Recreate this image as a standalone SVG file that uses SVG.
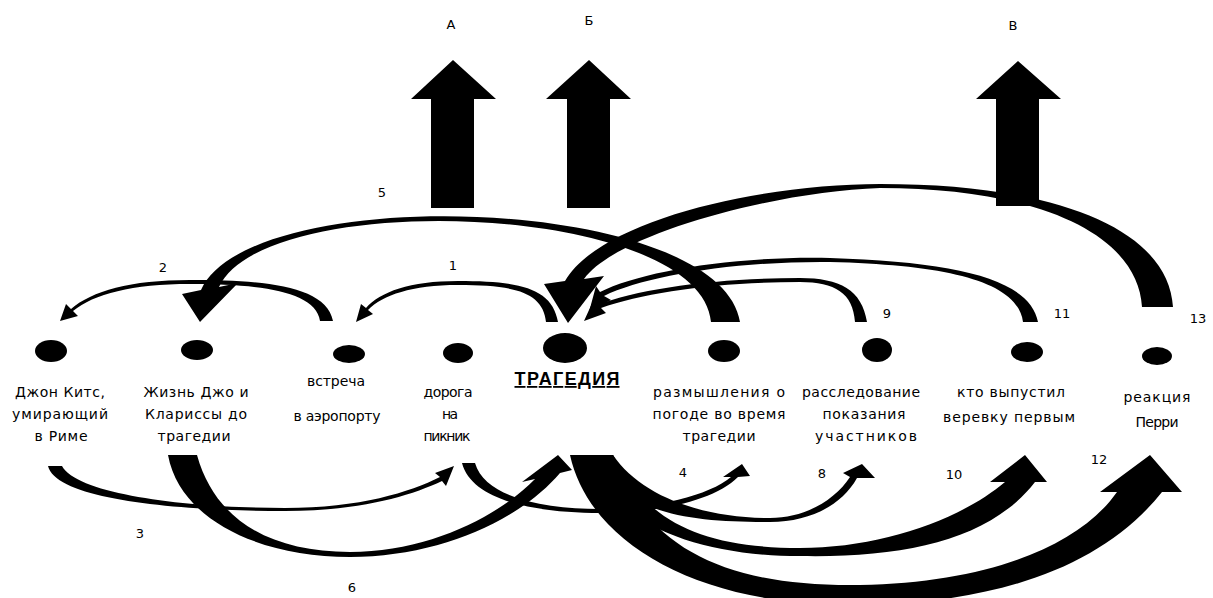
<svg xmlns="http://www.w3.org/2000/svg" width="1213" height="598" viewBox="0 0 1213 598">
<style>
.lbl{font-family:"DejaVu Sans","Liberation Sans",sans-serif;font-size:14px;fill:#000;text-anchor:middle}
.num{font-family:"DejaVu Sans","Liberation Sans",sans-serif;font-size:13px;fill:#000;text-anchor:middle}
.dot{fill:#000}
.arr{fill:#000;stroke:none}
.title{font-family:"Liberation Sans",Arial,sans-serif;font-size:18px;font-weight:bold;fill:#000;text-anchor:middle;text-decoration:underline}
</style>
<rect width="1213" height="598" fill="#fff"/>

<g id="connectors">
  <!-- top arcs -->
  <path id="c1" class="arr" d="M 558 322 C 552 288, 520 281, 458 281 C 410 281, 380 292, 366 308 L 361 304 L 356 322 L 373 314 L 368 310 C 383 295, 412 285, 458 285 C 515 285, 543 292, 546 322 Z"/>
  <path id="c2" class="arr" d="M 333 321 C 326 285, 262 280, 190 280 C 130 280, 92 291, 71 309 L 66 304 L 60 321 L 78 316 L 73 311 C 94 294, 132 284, 190 284 C 255 284, 316 290, 320 321 Z"/>
  <path id="c5" class="arr" d="M 740 322 C 720 195, 250 180, 201 290 L 182 294 L 200 322 L 238 283 L 219 287 C 265 187, 700 202, 711 322 Z"/>
  <path id="c9" class="arr" d="M 867 322 C 862 290, 840 278, 800 278 C 720 278, 640 288, 597 305 L 594 299 L 584 321 L 606 313 L 601 308 C 645 292, 720 282, 800 282 C 835 282, 853 293, 855 322 Z"/>
  <path id="c11" class="arr" d="M 1038 322 C 1030 280, 960 262, 830 258 C 730 256, 640 272, 600 292 L 596 286 L 589 312 L 611 300 L 604 296 C 645 276, 735 261, 830 262 C 950 265, 1018 282, 1023 322 Z"/>
  <path id="c13" class="arr" d="M 1173 307 C 1168 230, 1060 184, 880 184 C 760 184, 600 220, 565 281 L 544 284 L 568 323 L 604 276 L 584 279 C 615 235, 770 192, 880 188 C 1040 188, 1138 235, 1142 307 Z"/>
  <!-- bottom arcs -->
  <path id="c3" class="arr" d="M 48 466 C 56 500, 180 511, 285 511 C 360 511, 410 496, 442 481 L 446 486 L 454 466 L 435 473 L 440 477 C 410 492, 360 508, 285 508 C 190 508, 78 495, 62 466 Z"/>
  <path id="c4" class="arr" d="M 462 463 C 472 502, 540 513, 600 513 C 660 513, 715 500, 738 477 L 750 476 L 742 464 L 723 477 L 731 477 C 710 495, 655 509, 600 509 C 545 509, 485 498, 475 463 Z"/>
  <path id="c6" class="arr" d="M 168 455 C 180 520, 260 557, 350 557 C 440 557, 520 520, 560 473 L 572 470 L 558 455 L 522 482 L 535 479 C 500 515, 430 552, 350 552 C 270 552, 215 520, 197 455 Z"/>
  <path id="c8" class="arr" d="M 600 455 C 620 515, 690 522, 770 522 C 810 522, 842 505, 857 478 L 875 478 L 862 464 L 843 473 L 850 477 C 835 500, 805 518, 770 518 C 700 518, 640 495, 613 455 Z"/>
  <path id="c10" class="arr" d="M 585 455 C 610 520, 690 556, 800 556 C 905 558, 990 540, 1035 482 L 1047 482 L 1025 455 L 990 482 L 1005 482 C 960 520, 880 548, 800 548 C 700 548, 645 520, 613 455 Z"/>
  <path id="c12" class="arr" d="M 570 455 C 590 545, 700 605, 850 605 C 990 605, 1100 570, 1162 492 L 1182 492 L 1150 455 L 1100 492 L 1117 492 C 1080 545, 990 583, 860 585 C 720 587, 645 545, 613 455 Z"/>
  <!-- connector numbers -->
  <text class="num" x="453" y="270">1</text>
  <text class="num" x="163" y="272">2</text>
  <text class="num" x="140" y="538">3</text>
  <text class="num" x="683" y="477">4</text>
  <text class="num" x="382" y="197">5</text>
  <text class="num" x="352" y="592">6</text>
  <text class="num" x="822" y="478">8</text>
  <text class="num" x="887" y="318">9</text>
  <text class="num" x="954" y="479">10</text>
  <text class="num" x="1062" y="318">11</text>
  <text class="num" x="1099" y="464">12</text>
  <text class="num" x="1198" y="323">13</text>
</g>

<g id="up-arrows">
  <g id="arrowA">
    <polygon class="arr" points="453,60 496,99 474,99 474,208 431,208 431,99 411,99"/>
    <text class="num" x="451" y="29">А</text>
  </g>
  <g id="arrowB">
    <polygon class="arr" points="589,60 631,99 610,99 610,208 567,208 567,99 546,99"/>
    <text class="num" x="589" y="25">Б</text>
  </g>
  <g id="arrowV">
    <polygon class="arr" points="1018,61 1061,99 1039,99 1039,206 996,206 996,99 976,99"/>
    <text class="num" x="1013" y="30">В</text>
  </g>
</g>

<g id="node-keats">
  <ellipse class="dot" cx="51" cy="351" rx="16" ry="11"/>
  <text class="lbl" x="60" y="397" textLength="90" lengthAdjust="spacing">Джон Китс,</text>
  <text class="lbl" x="60" y="419" textLength="96" lengthAdjust="spacing">умирающий</text>
  <text class="lbl" x="61" y="441" textLength="53" lengthAdjust="spacing">в Риме</text>
</g>
<g id="node-life">
  <ellipse class="dot" cx="197" cy="350" rx="16" ry="10"/>
  <text class="lbl" x="196" y="397" textLength="105" lengthAdjust="spacing">Жизнь Джо и</text>
  <text class="lbl" x="196" y="419" textLength="102" lengthAdjust="spacing">Клариссы до</text>
  <text class="lbl" x="194" y="441" textLength="73" lengthAdjust="spacing">трагедии</text>
</g>
<g id="node-airport">
  <ellipse class="dot" cx="349" cy="354" rx="16" ry="9"/>
  <text class="lbl" x="336" y="386" textLength="58" lengthAdjust="spacing">встреча</text>
  <text class="lbl" x="337" y="421" textLength="87" lengthAdjust="spacing">в аэропорту</text>
</g>
<g id="node-road">
  <ellipse class="dot" cx="458" cy="353" rx="15" ry="10"/>
  <text class="lbl" x="448" y="397" textLength="49" lengthAdjust="spacing">дорога</text>
  <text class="lbl" x="450" y="419" textLength="16" lengthAdjust="spacing">на</text>
  <text class="lbl" x="447" y="441" textLength="47" lengthAdjust="spacing">пикник</text>
</g>
<g id="node-tragedy">
  <ellipse class="dot" cx="565" cy="348" rx="22" ry="15"/>
  <text class="title" x="567" y="385" textLength="105" lengthAdjust="spacing">ТРАГЕДИЯ</text>
</g>
<g id="node-weather">
  <ellipse class="dot" cx="724" cy="351" rx="16" ry="11"/>
  <text class="lbl" x="719" y="397" textLength="132" lengthAdjust="spacing">размышления о</text>
  <text class="lbl" x="719" y="419" textLength="133" lengthAdjust="spacing">погоде во время</text>
  <text class="lbl" x="719" y="441" textLength="73" lengthAdjust="spacing">трагедии</text>
</g>
<g id="node-inquiry">
  <ellipse class="dot" cx="877" cy="350" rx="15" ry="12"/>
  <text class="lbl" x="861" y="397" textLength="118" lengthAdjust="spacing">расследование</text>
  <text class="lbl" x="864" y="419" textLength="83" lengthAdjust="spacing">показания</text>
  <text class="lbl" x="866" y="441" textLength="102" lengthAdjust="spacing">участников</text>
</g>
<g id="node-rope">
  <ellipse class="dot" cx="1027" cy="352" rx="16" ry="10"/>
  <text class="lbl" x="1011" y="397" textLength="108" lengthAdjust="spacing">кто выпустил</text>
  <text class="lbl" x="1009" y="422" textLength="132" lengthAdjust="spacing">веревку первым</text>
</g>
<g id="node-perry">
  <ellipse class="dot" cx="1157" cy="356" rx="15" ry="9"/>
  <text class="lbl" x="1157" y="402" textLength="67" lengthAdjust="spacing">реакция</text>
  <text class="lbl" x="1157" y="427" textLength="43" lengthAdjust="spacing">Перри</text>
</g>
</svg>
